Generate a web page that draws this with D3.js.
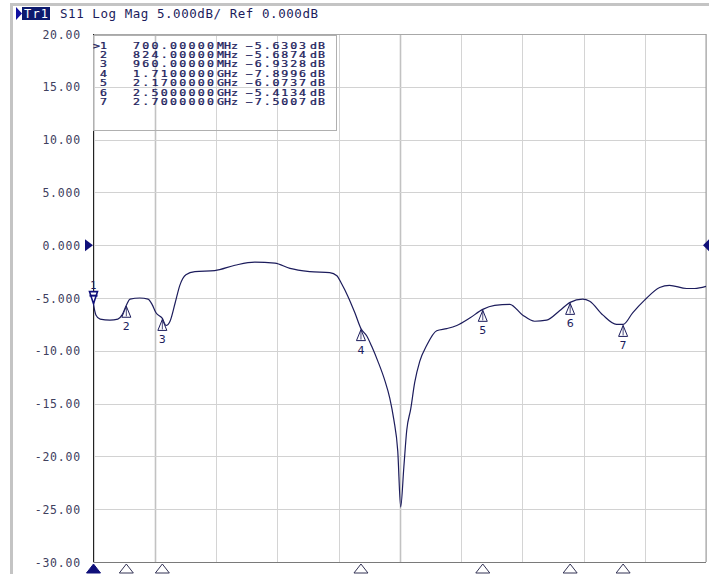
<!DOCTYPE html>
<html>
<head>
<meta charset="utf-8">
<script src="https://cdn.jsdelivr.net/npm/d3@7"></script>
<style>
  html, body { margin: 0; padding: 0; background: #ffffff; }
  svg { display: block; }
</style>
</head>
<body>
<svg id="chart" width="709" height="574"></svg>
<script>
// Sweep: start / stop frequency in MHz
const sweepStart = 700;
const sweepStop = 3013;

// S11 log magnitude trace (MHz, dB)
const traceFreq = [700, 709, 725, 762, 792, 808, 824, 838, 875, 906, 921, 936, 960, 974, 989, 1008, 1026, 1049, 1083, 1158, 1234, 1309, 1385, 1442, 1517, 1592, 1619, 1638, 1660, 1687, 1710, 1732, 1751, 1774, 1800, 1819, 1834, 1849, 1860, 1872, 1883, 1898, 1913, 1932, 1958, 1996, 2034, 2072, 2121, 2170, 2215, 2272, 2320, 2366, 2411, 2460, 2500, 2547, 2574, 2623, 2675, 2700, 2736, 2781, 2838, 2875, 2940, 2970, 3013];
const traceDb = [-5.6303, -6.6, -7.0, -7.1, -7.0, -6.6, -5.6874, -5.1, -5.0, -5.1, -5.6, -6.4, -6.9328, -7.6, -7.2, -5.5, -3.8, -2.8, -2.5, -2.4, -1.9, -1.6, -1.7, -2.2, -2.5, -2.6, -2.9, -3.7, -4.8, -6.4, -7.8996, -8.6, -9.6, -11.0, -12.8, -14.5, -16.5, -19.5, -24.8, -21.0, -17.5, -15.5, -13.0, -11.0, -9.5, -8.1, -7.9, -7.6, -6.9, -6.0737, -5.7, -5.6, -6.6, -7.2, -7.1, -6.2, -5.4134, -5.1, -5.3, -6.6, -7.5, -7.5007, -6.4, -5.2, -4.0, -3.8, -4.1, -4.1, -3.9];

// Markers
const markerIds = ["1", "2", "3", "4", "5", "6", "7"];
const markerFreq = [700, 824, 960, 1710, 2170, 2500, 2700];
const markerFreqText = ["700.00000", "824.00000", "960.00000", "1.7100000", "2.1700000", "2.5000000", "2.7000000"];
const markerUnit = ["MHz", "MHz", "MHz", "GHz", "GHz", "GHz", "GHz"];
const markerDb = [-5.6303, -5.6874, -6.9328, -7.8996, -6.0737, -5.4134, -7.5007];

// Y axis tick values and labels
const yTicks = [20, 15, 10, 5, 0, -5, -10, -15, -20, -25, -30];
const yTickLabels = ["20.00", "15.00", "10.00", "5.000", "0.000", "-5.000", "-10.00", "-15.00", "-20.00", "-25.00", "-30.00"];

const titleText = "S11 Log Mag 5.000dB/ Ref 0.000dB";
const refLevel = 0;

const navy = "#1c1c5c";
const markFill = "#10107a";

const svg = d3.select("#chart");

const x = d3.scaleLinear().domain([sweepStart, sweepStop]).range([93.5, 706]);
const y = d3.scaleLinear().domain([-30, 20]).range([562, 34]);

// Window frame
svg.append("rect").attr("x", 0).attr("y", 0).attr("width", 709).attr("height", 574).attr("fill", "#ffffff");
svg.append("rect").attr("x", 10).attr("y", 3).attr("width", 699).attr("height", 3).attr("fill", "#c4c4c4");
svg.append("rect").attr("x", 10).attr("y", 3).attr("width", 3).attr("height", 571).attr("fill", "#c4c4c4");

// Title line
svg.append("path").attr("d", "M16,7 L22,13.5 L16,20 Z").attr("fill", "#1010a0");
svg.append("rect").attr("x", 22).attr("y", 7).attr("width", 28).attr("height", 13).attr("fill", "#0c1a6e");
svg.append("text").attr("x", 24).attr("y", 18).attr("fill", "#ffffff")
  .attr("font-family", "DejaVu Sans Mono").attr("font-size", 12).attr("textLength", 24)
  .text("Tr1");
svg.append("text").attr("x", 60).attr("y", 18).attr("fill", navy)
  .attr("font-family", "DejaVu Sans Mono").attr("font-size", 12.5).attr("textLength", 258)
  .text(titleText);

// Grid
const divisions = d3.range(0, 11);
const gridG = svg.append("g");
divisions.forEach(i => {
  const f = sweepStart + i * (sweepStop - sweepStart) / 10;
  const px = Math.round(x(f)) + 0.5;
  gridG.append("line").attr("x1", px).attr("x2", px).attr("y1", y(20)).attr("y2", y(-30))
    .attr("stroke", (i === 1 || i === 5) ? "#c2c2c2" : "#d4d4d4").attr("stroke-width", (i === 1 || i === 5) ? 1.6 : 1);
});
yTicks.forEach(v => {
  const py = Math.round(y(v)) + 0.5;
  gridG.append("line").attr("x1", x(sweepStart)).attr("x2", x(sweepStop)).attr("y1", py).attr("y2", py)
    .attr("stroke", "#d2d2d2").attr("stroke-width", 1);
});

// Plot frame
svg.append("line").attr("x1", x(sweepStart)).attr("x2", x(sweepStop)).attr("y1", y(20) + 0.5).attr("y2", y(20) + 0.5).attr("stroke", "#a8a8a8");
svg.append("line").attr("x1", x(sweepStop)).attr("x2", x(sweepStop)).attr("y1", y(20)).attr("y2", y(-30)).attr("stroke", "#9a9a9a");
svg.append("line").attr("x1", x(sweepStart)).attr("x2", x(sweepStop)).attr("y1", y(-30) + 0.5).attr("y2", y(-30) + 0.5).attr("stroke", "#7a7a7a");
svg.append("line").attr("x1", Math.round(x(sweepStart)) - 0.5).attr("x2", Math.round(x(sweepStart)) - 0.5).attr("y1", y(20)).attr("y2", y(-30)).attr("stroke", "#222222");

// Y axis labels
const yAxis = d3.axisLeft(y).tickValues(yTicks).tickSize(0).tickPadding(0)
  .tickFormat((d, i) => yTickLabels[i]);
const yAxisG = svg.append("g").attr("transform", "translate(81,0)").call(yAxis);
yAxisG.select(".domain").remove();
yAxisG.selectAll("text").attr("font-family", "DejaVu Sans Mono").attr("font-size", 11.5)
  .attr("fill", "#40405e").attr("dy", "0.35em").attr("letter-spacing", 0.8);

// Reference level pointers
svg.append("path").attr("d", `M85,${y(refLevel) - 6} L93,${y(refLevel)} L85,${y(refLevel) + 6} Z`).attr("fill", markFill);
svg.append("path").attr("d", `M709,${y(refLevel) - 6} L703,${y(refLevel)} L709,${y(refLevel) + 6} Z`).attr("fill", markFill);

// Marker table: glyphs widened horizontally to fill each column
const tbl = svg.append("g");
tbl.append("rect").attr("x", 93.5).attr("y", 35.5).attr("width", 243).attr("height", 95)
  .attr("fill", "none").attr("stroke", "#b0b0b0");
const sx = 1.45;
function cell(g, x0, ty, w, txt, anchorEnd) {
  const t = g.append("text")
    .attr("transform", `translate(${x0},${ty}) scale(${sx},1)`)
    .attr("x", 0).attr("y", 0)
    .text(txt);
  if (w) t.attr("textLength", w / sx).attr("lengthAdjust", "spacing");
  if (anchorEnd) t.attr("text-anchor", "end");
  return t;
}
markerIds.forEach((id, i) => {
  const ty = 48.5 + i * 9.4;
  const g = tbl.append("g").attr("font-family", "DejaVu Sans Mono").attr("font-size", 8)
    .attr("fill", navy).attr("stroke", navy).attr("stroke-width", 0.25);
  cell(g, 107, ty, null, i === 0 ? ">" + id : id, true);
  cell(g, 133, ty, 81, markerFreqText[i]);
  cell(g, 217, ty, 21, markerUnit[i]);
  cell(g, 246, ty, 60, d3.format(".4f")(markerDb[i]));
  cell(g, 310, ty, 15, "dB");
});

// Trace
const traceData = traceFreq.map((f, i) => ({ f, v: traceDb[i] }));
const line = d3.line().x(d => x(d.f)).y(d => y(d.v)).curve(d3.curveMonotoneX);
svg.append("path").datum(traceData).attr("d", line)
  .attr("fill", "none").attr("stroke", navy).attr("stroke-width", 1.2).attr("stroke-linejoin", "round");

// Markers on trace
markerIds.forEach((id, i) => {
  const mx = x(markerFreq[i]);
  const my = y(markerDb[i]);
  const g = svg.append("g");
  if (i === 0) {
    g.append("path").attr("d", `M${mx - 4},${my - 13} L${mx + 4},${my - 13} L${mx},${my - 1} Z`)
      .attr("fill", "#ffffff").attr("stroke", markFill).attr("stroke-width", 1.6);
    g.append("line").attr("x1", mx - 4).attr("x2", mx + 4).attr("y1", my - 9).attr("y2", my - 9).attr("stroke", markFill).attr("stroke-width", 2);
    g.append("text").attr("x", mx).attr("y", my - 16).attr("text-anchor", "middle")
      .attr("font-family", "DejaVu Sans").attr("font-size", 10).attr("fill", navy).text(id);
  } else {
    g.append("path").attr("d", `M${mx},${my + 1} L${mx + 4.5},${my + 12} L${mx - 4.5},${my + 12} Z`)
      .attr("fill", "#ffffff").attr("stroke", navy).attr("stroke-width", 1);
    g.append("line").attr("x1", mx).attr("x2", mx).attr("y1", my + 1).attr("y2", my + 11).attr("stroke", navy).attr("stroke-width", 0.8);
    g.append("text").attr("x", mx).attr("y", my + 25).attr("text-anchor", "middle")
      .attr("font-family", "DejaVu Sans").attr("font-size", 11).attr("fill", navy).text(id);
  }
});

// Marker position indicators along the bottom
markerFreq.forEach((f, i) => {
  const mx = x(f);
  svg.append("path").attr("d", `M${mx},564 L${mx + 7},573 L${mx - 7},573 Z`)
    .attr("fill", i === 0 ? markFill : "#ffffff").attr("stroke", i === 0 ? markFill : "#333355").attr("stroke-width", 1);
});
</script>
</body>
</html>
